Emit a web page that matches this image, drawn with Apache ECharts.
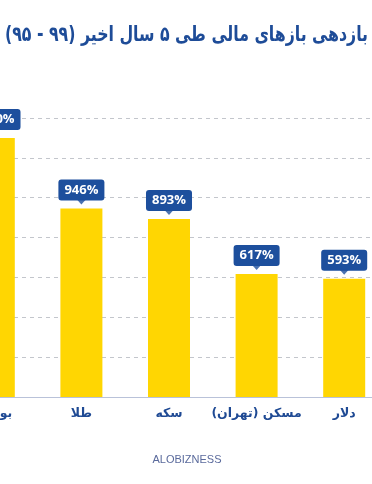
<!DOCTYPE html>
<html>
<head>
<meta charset="utf-8">
<script src="https://cdn.jsdelivr.net/npm/echarts@6/dist/echarts.min.js"></script>
<style>
html,body{margin:0;padding:0;background:#fff;overflow:hidden;width:372px;height:484px;position:relative;}
#c{position:absolute;left:-50px;top:0;width:460px;height:484px;direction:rtl;}
</style>
</head>
<body>
<div id="c"></div>
<script>
const titleText = '\u202Bبازدهی بازهای مالی طی ۵ سال اخیر (۹۹ - ۹۵)\u202C';
const categories = ['بورس', 'طلا', 'سکه', 'مسکن (تهران)', 'دلار'];
const returns = [1300, 946, 893, 617, 593];
const yTicks = [0, 200, 400, 600, 800, 1000, 1200, 1400];
const footer = 'ALOBIZNESS';

const blue = '#1d4f9d';
const titleFont = 'bold 21px "DejaVu Sans"';
// fit the title to the width it takes in the reference (363px)
const mc = document.createElement('canvas').getContext('2d');
mc.font = titleFont;
const tw = mc.measureText(titleText).width || 363;
const titleScale = 363 / tw;

const chart = echarts.init(document.getElementById('c'), null, {renderer: 'canvas'});
chart.setOption({
  animation: false,
  graphic: [{
    type: 'text',
    x: 418,
    y: 36,
    scaleX: titleScale,
    style: {text: titleText, x: 0, y: 0, font: titleFont, fill: '#1e4c98', textAlign: 'right', textVerticalAlign: 'middle'}
  }, {
    type: 'text',
    x: 237,
    y: 460,
    style: {text: footer, fontSize: 11, fill: '#5a6a9c', fontFamily: 'Liberation Sans', textAlign: 'center', textVerticalAlign: 'middle'}
  }],
  grid: {left: 0, width: 438, top: 118, height: 279},
  xAxis: {
    type: 'category',
    data: categories,
    axisTick: {show: false},
    axisLine: {lineStyle: {color: '#b9c2d9', width: 1}},
    axisLabel: {color: '#1f4a94', fontWeight: 'bold', fontSize: 12.5, margin: 10, fontFamily: 'DejaVu Sans', interval: 0}
  },
  yAxis: {
    type: 'value',
    min: yTicks[0],
    max: yTicks[yTicks.length - 1],
    interval: yTicks[1] - yTicks[0],
    axisLabel: {show: false},
    axisLine: {show: false},
    axisTick: {show: false},
    splitLine: {lineStyle: {color: '#c3c6cc', type: [4, 4], width: 1}}
  },
  series: [{
    type: 'bar',
    data: returns,
    barWidth: 42,
    itemStyle: {color: '#FFD602'},
    label: {
      show: true,
      position: 'top',
      distance: 8,
      formatter: p => p.value + '%',
      color: '#fff',
      fontWeight: 'bold',
      fontSize: 13,
      fontFamily: 'Open Sans',
      backgroundColor: blue,
      borderRadius: 3,
      padding: [4, 6, 4, 6]
    },
    z: 2
  }, {
    type: 'scatter',
    data: returns,
    symbol: 'triangle',
    symbolRotate: 180,
    symbolSize: [9, 5],
    symbolOffset: [0, -6.5],
    itemStyle: {color: blue},
    silent: true,
    z: 3
  }]
});
</script>
</body>
</html>
